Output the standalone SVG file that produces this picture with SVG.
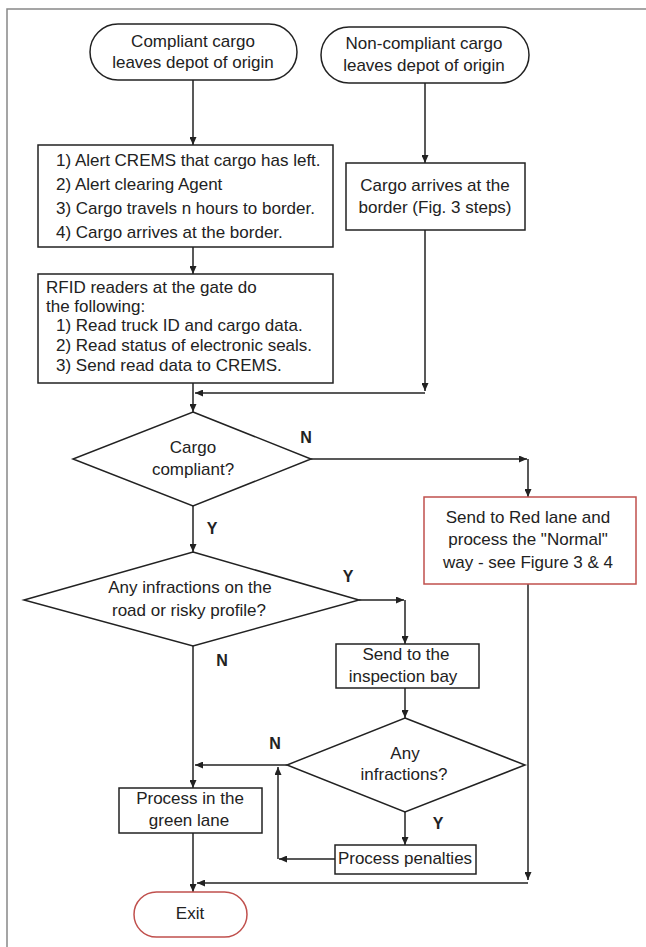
<svg xmlns="http://www.w3.org/2000/svg" width="646" height="947" viewBox="0 0 646 947">
<defs>
<marker id="ah" markerWidth="8" markerHeight="7" refX="8" refY="3.5" orient="auto" markerUnits="userSpaceOnUse">
<path d="M0,0 L8,3.5 L0,7 z" fill="#222"/>
</marker>
<style>
.n{fill:#fff;stroke:#222;stroke-width:1.5}
.r{fill:#fff;stroke:#c0504d;stroke-width:1.5}
.t{font-family:"Liberation Sans",Arial,sans-serif;font-size:17px;fill:#222}
.c{text-anchor:middle}
.lb{font-family:"Liberation Sans",Arial,sans-serif;font-size:16px;font-weight:bold;fill:#222;text-anchor:middle}
.e{fill:none;stroke:#222;stroke-width:1.5}
.a{marker-end:url(#ah)}
</style>
</defs>
<rect width="646" height="947" fill="#fff"/>
<path d="M7,947 V9 H646" fill="none" stroke="#888" stroke-width="1.5"/>

<g id="connectors">
<path class="e a" d="M193,80 V145"/>
<path class="e a" d="M425,83 V163"/>
<path class="e a" d="M193,247 V274"/>
<path class="e a" d="M425,230 V391"/>
<path class="e a" d="M425,393 H195"/>
<path class="e a" d="M193,383 V412"/>
<path class="e a" d="M311,459 H527"/>
<path class="e a" d="M528,459 V497"/>
<path class="e a" d="M193,506 V552"/>
<path class="e a" d="M359,600 H404"/>
<path class="e a" d="M405,600 V644"/>
<path class="e a" d="M405,688 V718"/>
<path class="e a" d="M287,765 H195"/>
<path class="e a" d="M193,646 V788"/>
<path class="e a" d="M405,812 V845"/>
<path class="e a" d="M335,859 H279"/>
<path class="e a" d="M278,859 V767"/>
<path class="e a" d="M528,584 V880"/>
<path class="e a" d="M528,883 H197"/>
<path class="e a" d="M193,833 V892"/>
<text class="lb" x="306" y="443">N</text>
<text class="lb" x="212" y="534">Y</text>
<text class="lb" x="348" y="582">Y</text>
<text class="lb" x="222" y="666">N</text>
<text class="lb" x="275" y="749">N</text>
<text class="lb" x="438" y="829">Y</text>
</g>

<g id="start-compliant">
<rect class="n" x="90" y="24" width="207" height="56" rx="28"/>
<text class="t c" x="193" y="47">Compliant cargo</text>
<text class="t c" x="193" y="68">leaves depot of origin</text>
</g>

<g id="start-noncompliant">
<rect class="n" x="321" y="27" width="208" height="56" rx="28"/>
<text class="t c" x="424" y="49">Non-compliant cargo</text>
<text class="t c" x="424" y="71">leaves depot of origin</text>
</g>

<g id="alert-steps">
<rect class="n" x="38" y="145" width="295" height="102"/>
<text class="t" x="56" y="166">1) Alert CREMS that cargo has left.</text>
<text class="t" x="56" y="190">2) Alert clearing Agent</text>
<text class="t" x="56" y="214">3) Cargo travels n hours to border.</text>
<text class="t" x="56" y="238">4) Cargo arrives at the border.</text>
</g>

<g id="cargo-arrives">
<rect class="n" x="346" y="163" width="179" height="67"/>
<text class="t c" x="435" y="191">Cargo arrives at the</text>
<text class="t c" x="435" y="213">border (Fig. 3 steps)</text>
</g>

<g id="rfid">
<rect class="n" x="38" y="274" width="295" height="109"/>
<text class="t" x="46" y="293">RFID readers at the gate do</text>
<text class="t" x="46" y="312">the following:</text>
<text class="t" x="56" y="331">1) Read truck ID and cargo data.</text>
<text class="t" x="56" y="351">2) Read status of electronic seals.</text>
<text class="t" x="56" y="371">3) Send read data to CREMS.</text>
</g>

<g id="cargo-compliant">
<polygon class="n" points="193,412 311,459 193,506 73,459"/>
<text class="t c" x="193" y="453">Cargo</text>
<text class="t c" x="193" y="475">compliant?</text>
</g>

<g id="red-lane">
<rect class="r" x="424" y="497" width="212" height="87"/>
<text class="t c" x="528" y="523">Send to Red lane and</text>
<text class="t c" x="528" y="545">process the "Normal"</text>
<text class="t c" x="528" y="568">way - see Figure 3 &amp; 4</text>
</g>

<g id="any-infractions-road">
<polygon class="n" points="193,552 359,600 193,646 24,600"/>
<text class="t c" x="190" y="593">Any infractions on the</text>
<text class="t c" x="189" y="616">road or risky profile?</text>
</g>

<g id="inspection-bay">
<rect class="n" x="336" y="644" width="143" height="44"/>
<text class="t c" x="406" y="660">Send to the</text>
<text class="t c" x="403" y="682">inspection bay</text>
</g>

<g id="any-infractions">
<polygon class="n" points="405,718 525,765 405,812 287,765"/>
<text class="t c" x="405" y="759">Any</text>
<text class="t c" x="404" y="780">infractions?</text>
</g>

<g id="green-lane">
<rect class="n" x="119" y="788" width="143" height="45"/>
<text class="t c" x="190" y="804">Process in the</text>
<text class="t c" x="189" y="826">green lane</text>
</g>

<g id="penalties">
<rect class="n" x="335" y="845" width="141" height="29"/>
<text class="t c" x="405" y="864">Process penalties</text>
</g>

<g id="exit">
<rect class="r" x="134" y="892" width="113" height="45" rx="22.5"/>
<text class="t c" x="190" y="919">Exit</text>
</g>
</svg>
